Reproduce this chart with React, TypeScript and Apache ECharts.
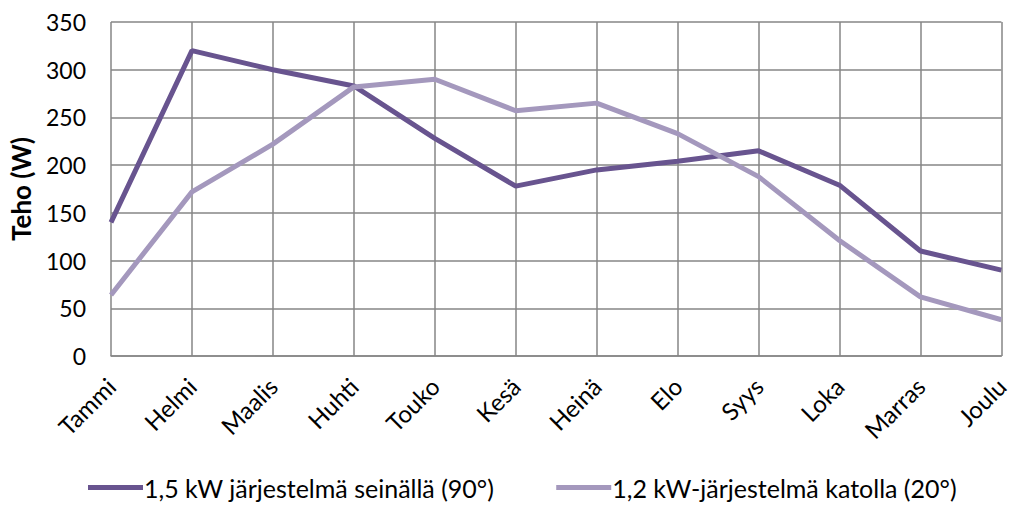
import React, { useEffect, useRef } from "react";
import * as echarts from "echarts";

const months = ["Tammi", "Helmi", "Maalis", "Huhti", "Touko", "Kesä", "Heinä", "Elo", "Syys", "Loka", "Marras", "Joulu"];
const wallSeries = [140, 320, 300, 283, 228, 178, 195, 204, 215, 179, 110, 90];
const roofSeries = [64, 172, 222, 282, 290, 257, 265, 233, 188, 121, 62, 38];
const seriesNames = ["1,5 kW järjestelmä seinällä (90°)", "1,2 kW-järjestelmä katolla (20°)"];
const seriesColors = ["#68548f", "#a498bd"];

const FONT = "Lato, 'Open Sans', sans-serif";

export default function App() {
  const ref = useRef<HTMLDivElement>(null);
  useEffect(() => {
    if (!ref.current) return;
    const chart = echarts.init(ref.current, null, { renderer: "svg" });
    chart.setOption({
      animation: false,
      textStyle: { fontFamily: FONT },
      grid: { left: 110, right: 10, top: 22, bottom: 150 },
      legend: {
        bottom: 1,
        left: 83,
        icon: "rect",
        itemWidth: 55,
        itemHeight: 5,
        itemGap: 62,
        textStyle: { fontFamily: FONT, fontSize: 25, color: "#000", padding: [0, 0, 0, -4] },
        data: seriesNames,
      },
      xAxis: {
        type: "category",
        data: months,
        boundaryGap: false,
        axisLine: { lineStyle: { color: "#868686", width: 1.5 } },
        axisTick: { show: false },
        splitLine: { show: true, lineStyle: { color: "#868686", width: 1.5 } },
        axisLabel: {
          rotate: 45,
          margin: 26,
          fontSize: 24,
          color: "#000",
          fontFamily: FONT,
          interval: 0,
        },
      },
      yAxis: {
        type: "value",
        min: 0,
        max: 350,
        interval: 50,
        name: "Teho (W)",
        nameLocation: "middle",
        nameGap: 77,
        nameTextStyle: { fontSize: 26, fontWeight: "bold", color: "#000", fontFamily: FONT },
        axisLine: { show: false },
        axisTick: { show: false },
        splitLine: { show: true, lineStyle: { color: "#868686", width: 1.5 } },
        axisLabel: { fontSize: 23, color: "#000", margin: 25, fontFamily: FONT },
      },
      series: [
        {
          name: seriesNames[0],
          type: "line",
          data: wallSeries,
          symbol: "none",
          lineStyle: { color: seriesColors[0], width: 5 },
          itemStyle: { color: seriesColors[0] },
        },
        {
          name: seriesNames[1],
          type: "line",
          data: roofSeries,
          symbol: "none",
          lineStyle: { color: seriesColors[1], width: 5 },
          itemStyle: { color: seriesColors[1] },
        },
      ],
    });
    return () => chart.dispose();
  }, []);
  return <div ref={ref} style={{ width: 1012, height: 506, position: "absolute", left: 0, top: 0 }} />;
}
